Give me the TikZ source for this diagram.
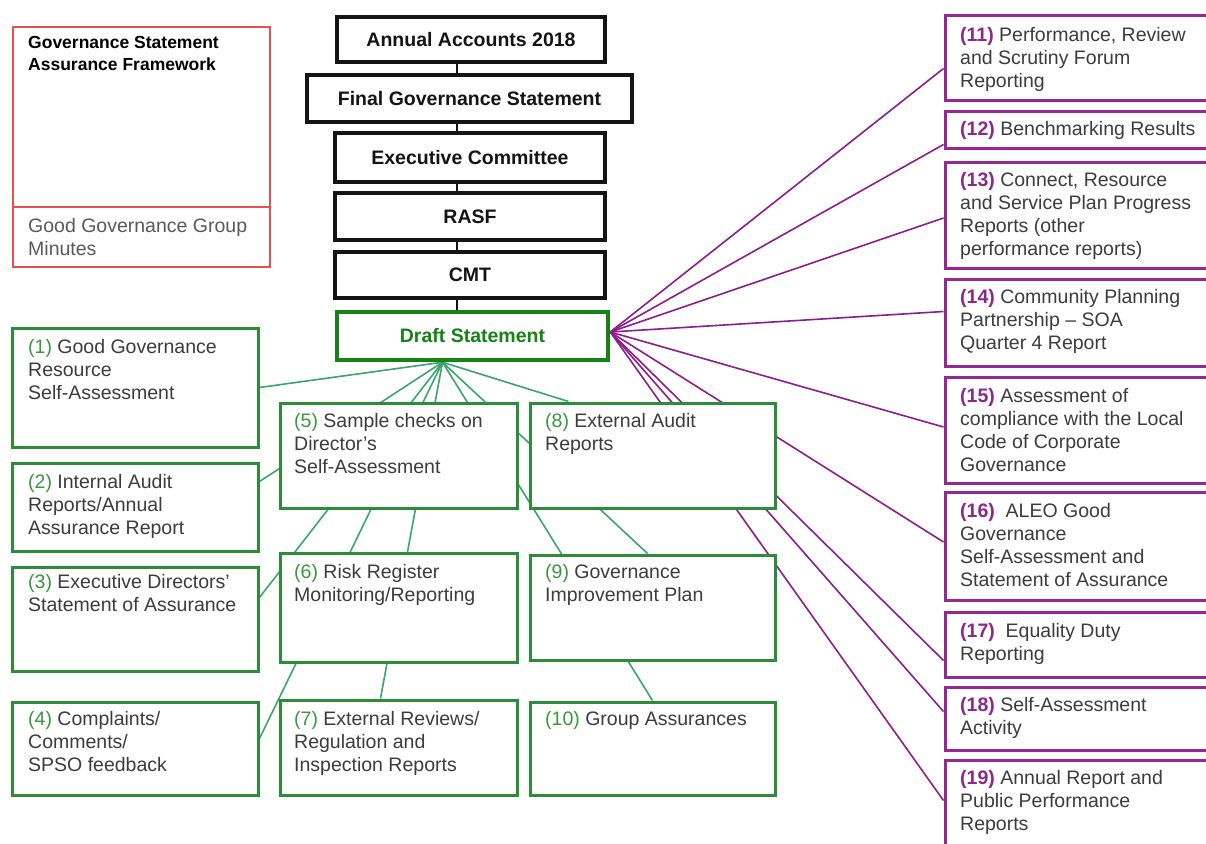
\documentclass[tikz,border=0pt]{standalone}
\usepackage{fontspec}
\setmainfont{Liberation Sans}
\usetikzlibrary{calc}
\pgfdeclarelayer{background}
\pgfsetlayers{background,main}
\definecolor{gfr}{RGB}{45,140,55}
\definecolor{dgreen}{RGB}{20,130,20}
\definecolor{gline}{RGB}{60,165,110}
\definecolor{gnum}{RGB}{60,150,60}
\definecolor{pfr}{RGB}{150,40,150}
\definecolor{pline}{RGB}{140,30,140}
\definecolor{pnum}{RGB}{140,40,140}
\definecolor{txtc}{RGB}{60,60,60}
\definecolor{redfr}{RGB}{230,80,80}
\definecolor{blk}{RGB}{20,20,20}
\newcommand{\gn}[1]{\textcolor{gnum}{#1}}
\newcommand{\pn}[1]{\textcolor{pnum}{\bfseries #1}}
\begin{document}
\begin{tikzpicture}[x=1pt,y=-1pt,
  blkbox/.style={draw=blk,line width=4.5pt,fill=white,rectangle,inner sep=0pt,
    font=\bfseries\fontsize{19.5}{22}\selectfont,text=blk},
  draftbox/.style={draw=dgreen,line width=4.5pt,fill=white,rectangle,inner sep=0pt,
    font=\bfseries\fontsize{19.5}{22}\selectfont,text=dgreen},
  gbox/.style={draw=gfr,line width=3pt,fill=white,rectangle,inner sep=0pt},
  pbox/.style={draw=pfr,line width=3pt,fill=white,rectangle,inner sep=0pt,minimum width=285pt},
  rbox/.style={draw=redfr,line width=2.5pt,fill=white,rectangle,inner sep=0pt,minimum width=257pt},
  txt/.style={anchor=north west,inner sep=0pt,align=left,text=txtc,
    font=\fontsize{19.5}{23}\selectfont},
  glink/.style={draw=gline,line width=1.6pt},
  plink/.style={draw=pline,line width=1.6pt},
  klink/.style={draw=blk,line width=2pt}]
\clip (0,0) rectangle (1206,843);

% red framework box
\node[rbox,minimum height=180pt] (rtop) at (141.5,117) {};
\node[rbox,minimum height=60pt] (rbot) at (141.5,237) {};
\node[txt,text=black,font=\bfseries\fontsize{17.5}{22}\selectfont] (rt1) at (28,36) {Governance Statement\\Assurance Framework};
\node[txt,text=txtc!85] (rt2) at (28,218) {Good Governance Group\\Minutes};

% black chain
\node[blkbox,minimum width=268pt,minimum height=45pt] (aa) at (471,39.5) {Annual Accounts 2018};
\node[blkbox,minimum width=325pt,minimum height=47pt] (fgs) at (469.5,98.5) {Final Governance Statement};
\node[blkbox,minimum width=270pt,minimum height=49pt] (ec) at (470,157.5) {Executive Committee};
\node[blkbox,minimum width=270pt,minimum height=47pt] (rasf) at (470,216.5) {RASF};
\node[blkbox,minimum width=270pt,minimum height=46pt] (cmt) at (470,275) {CMT};
\node[draftbox,minimum width=271pt,minimum height=48pt] (draft) at (472.5,336) {Draft Statement};

% green boxes
\node[gbox,minimum width=246pt,minimum height=119pt] (b1) at (135,387.5) {};
\node[gbox,minimum width=246pt,minimum height=88pt] (b2) at (135,507) {};
\node[gbox,minimum width=246pt,minimum height=104pt] (b3) at (135,619) {};
\node[gbox,minimum width=246pt,minimum height=93pt] (b4) at (135,748.5) {};
\node[gbox,minimum width=237pt,minimum height=105pt] (b5) at (398.5,455.5) {};
\node[gbox,minimum width=237pt,minimum height=109pt] (b6) at (398.5,607.5) {};
\node[gbox,minimum width=237pt,minimum height=95pt] (b7) at (398.5,747.5) {};
\node[gbox,minimum width=245pt,minimum height=105pt] (b8) at (652.5,455.5) {};
\node[gbox,minimum width=245pt,minimum height=105pt] (b9) at (652.5,607.5) {};
\node[gbox,minimum width=245pt,minimum height=93pt] (b10) at (652.5,748.5) {};

\node[txt] (t1) at (28,339) {\gn{(1)} Good Governance\\Resource\\Self-Assessment};
\node[txt] (t2) at (28,474) {\gn{(2)} Internal Audit\\Reports/Annual\\Assurance Report};
\node[txt] (t3) at (28,574) {\gn{(3)} Executive Directors'\\Statement of Assurance};
\node[txt] (t4) at (28,711) {\gn{(4)} Complaints/\\Comments/\\SPSO feedback};
\node[txt] (t5) at (294,413) {\gn{(5)} Sample checks on\\Director's\\Self-Assessment};
\node[txt] (t6) at (294,564) {\gn{(6)} Risk Register\\Monitoring/Reporting};
\node[txt] (t7) at (294,711) {\gn{(7)} External Reviews/\\Regulation and\\Inspection Reports};
\node[txt] (t8) at (545,413) {\gn{(8)} External Audit\\Reports};
\node[txt] (t9) at (545,564) {\gn{(9)} Governance\\Improvement Plan};
\node[txt] (t10) at (545,711) {\gn{(10)} Group Assurances};

% purple boxes
\node[pbox,minimum height=84pt] (b11) at (1087.5,58) {};
\node[pbox,minimum height=37pt] (b12) at (1087.5,129.5) {};
\node[pbox,minimum height=106pt] (b13) at (1087.5,215) {};
\node[pbox,minimum height=87pt] (b14) at (1087.5,322.5) {};
\node[pbox,minimum height=106pt] (b15) at (1087.5,430) {};
\node[pbox,minimum height=108pt] (b16) at (1087.5,546) {};
\node[pbox,minimum height=65pt] (b17) at (1087.5,644.5) {};
\node[pbox,minimum height=63pt] (b18) at (1087.5,718.5) {};
\node[pbox,minimum height=110pt] (b19) at (1087.5,815) {};

\node[txt] (t11) at (960,27) {\pn{(11)} Performance, Review\\and Scrutiny Forum\\Reporting};
\node[txt] (t12) at (960,121) {\pn{(12)} Benchmarking Results};
\node[txt] (t13) at (960,172) {\pn{(13)} Connect, Resource\\and Service Plan Progress\\Reports (other\\performance reports)};
\node[txt] (t14) at (960,289) {\pn{(14)} Community Planning\\Partnership – SOA\\Quarter 4 Report};
\node[txt] (t15) at (960,388) {\pn{(15)} Assessment of\\compliance with the Local\\Code of Corporate\\Governance};
\node[txt] (t16) at (960,503) {\pn{(16)}\ \ ALEO Good\\Governance\\Self-Assessment and\\Statement of Assurance};
\node[txt] (t17) at (960,623) {\pn{(17)}\ \ Equality Duty\\Reporting};
\node[txt] (t18) at (960,697) {\pn{(18)} Self-Assessment\\Activity};
\node[txt] (t19) at (960,770) {\pn{(19)} Annual Report and\\Public Performance\\Reports};

\coordinate (cx) at (457,0);
\coordinate (S) at ([xshift=-30pt]draft.south);
\coordinate (P) at ([yshift=4pt]draft.east);

\begin{pgfonlayer}{background}
\fill[white] (0,0) rectangle (1206,843);
% black chain links
\draw[klink] (aa.south -| cx) -- (fgs.north -| cx);
\draw[klink] (fgs.south -| cx) -- (ec.north -| cx);
\draw[klink] (ec.south -| cx) -- (rasf.north -| cx);
\draw[klink] (rasf.south -| cx) -- (cmt.north -| cx);
\draw[klink] (cmt.south -| cx) -- (draft.north -| cx);
% green links
\draw[glink] (S) -- (b1.east);
\draw[glink] (S) -- ([yshift=-20pt]b2.north east);
\draw[glink] (S) -- ([yshift=-32pt]b3.north east);
\draw[glink] (S) -- ([yshift=-38pt]b4.north east);
\draw[glink] (S) -- ([xshift=-18pt]b7.north);
\draw[glink] (S) -- ([xshift=40pt]b8.north west);
\draw[glink] (S) -- ([xshift=-5pt]b9.north);
\draw[glink] (S) -- (b10.north);
% purple links
\draw[plink] (P) -- ([yshift=-54pt]b11.north west);
\draw[plink] (P) -- ([yshift=5pt]b12.south west);
\draw[plink] (P) -- ([yshift=-3pt]b13.west);
\draw[plink] (P) -- ([yshift=-34pt]b14.north west);
\draw[plink] (P) -- ([yshift=3pt]b15.west);
\draw[plink] (P) -- ([yshift=4pt]b16.west);
\draw[plink] (P) -- ([yshift=18pt]b17.south west);
\draw[plink] (P) -- ([yshift=-26pt]b18.north west);
\draw[plink] (P) -- ([yshift=-42pt]b19.north west);
\end{pgfonlayer}
\end{tikzpicture}
\end{document}
